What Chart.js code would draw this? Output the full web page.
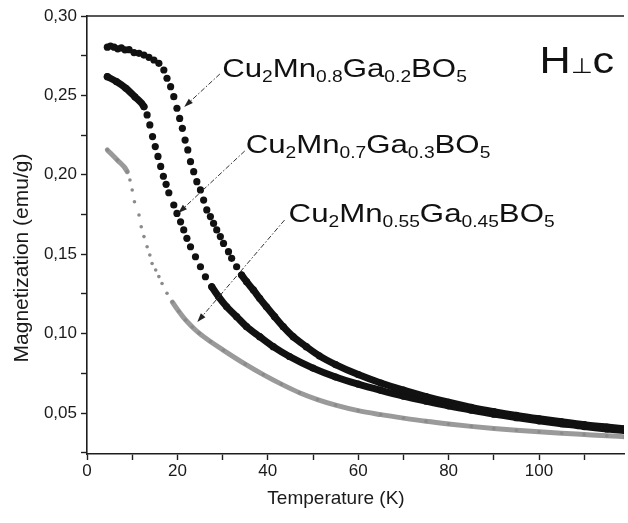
<!DOCTYPE html>
<html>
<head>
<meta charset="utf-8">
<script src="https://cdn.jsdelivr.net/npm/chart.js@4.4.1/dist/chart.umd.min.js"></script>
<style>
  html, body { margin: 0; padding: 0; background: #fff; }
</style>
</head>
<body>
<canvas id="magChart" width="628" height="523"></canvas>
<script>
// M(T) curves, H perpendicular to c
const temp08 = [4.5, 5.2, 6.0, 6.8, 7.6, 8.4, 9.3, 10.4, 11.5, 12.6, 13.7, 14.8, 15.9, 17.0, 17.7, 18.5, 19.2, 19.9, 20.5, 21.1,
  21.7, 22.3, 22.9, 23.6, 24.3, 25.1, 25.8, 26.5, 27.3, 28.0, 28.7, 29.5, 30.2, 31.3, 32.0, 33.1, 34.2, 35.3, 36.8, 38.2,
  39.7, 41.5, 43.4, 45.6, 48.5, 51.4, 55, 60, 65, 70, 75, 80, 85, 90, 95, 100, 105, 110, 115, 119];
const mag08 = [0.2804, 0.2811, 0.2804, 0.2793, 0.2799, 0.2787, 0.2788, 0.2770, 0.2765, 0.2754, 0.2740, 0.2723, 0.2702, 0.2660, 0.2608, 0.2555, 0.2492, 0.2419, 0.2355, 0.2293,
  0.2219, 0.2157, 0.2083, 0.2020, 0.1957, 0.1905, 0.1841, 0.1779, 0.1737, 0.1694, 0.1653, 0.1611, 0.1568, 0.1516, 0.1474, 0.1421, 0.1369, 0.1327, 0.1275, 0.1222,
  0.1169, 0.1107, 0.1044, 0.0981, 0.0918, 0.0860, 0.0805, 0.0742, 0.0689, 0.0644, 0.0604, 0.0568, 0.0536, 0.0509, 0.0485, 0.0464, 0.0445, 0.0427, 0.0412, 0.0401];

const temp07 = [4.5, 6.5, 8.6, 10.6, 12.6, 13.3, 13.9, 14.5, 15.1, 15.7, 16.3, 16.9, 17.5, 18.1, 19.2, 19.9, 20.7, 21.4, 22.1, 22.9,
  24.0, 25.1, 26.2, 27.6, 29.1, 30.9, 33.1, 35.3, 38.2, 41.2, 44.8, 50, 55, 60, 65, 70, 75, 80, 85, 90, 95, 100, 105, 110, 115, 119];
const mag07 = [0.2618, 0.2587, 0.2545, 0.2491, 0.2429, 0.2377, 0.2314, 0.2241, 0.2178, 0.2116, 0.2053, 0.1991, 0.1940, 0.1887, 0.1810, 0.1757, 0.1704, 0.1653, 0.1600, 0.1547,
  0.1484, 0.1421, 0.1358, 0.1295, 0.1233, 0.1169, 0.1107, 0.1044, 0.0981, 0.0918, 0.0856, 0.0783, 0.0727, 0.0682, 0.0643, 0.0607, 0.0575, 0.0545, 0.0518, 0.0493, 0.0471, 0.0451, 0.0433, 0.0415, 0.0400, 0.0390];

const temp055 = [4.5, 6.7, 8.9, 9.5, 10.0, 10.5, 11.5, 12.0, 12.6, 13.3, 13.9, 14.4, 15.2, 15.9, 16.6, 17.7, 18.9, 20.3, 21.8, 23.3,
  24.8, 27.3, 30.2, 35, 39, 43, 47, 51, 55, 60, 65, 70, 75, 80, 85, 90, 95, 100, 105, 110, 115, 119];
const mag055 = [0.2157, 0.2093, 0.2020, 0.1967, 0.1904, 0.1830, 0.1747, 0.1673, 0.1611, 0.1547, 0.1495, 0.1442, 0.1401, 0.1359, 0.1316, 0.1254, 0.1199, 0.1141, 0.1086, 0.1042,
  0.1003, 0.0950, 0.0895, 0.0808, 0.0742, 0.0682, 0.0628, 0.0585, 0.0550, 0.0515, 0.0490, 0.0468, 0.0448, 0.0431, 0.0416, 0.0403, 0.0392, 0.0382, 0.0373, 0.0365, 0.0357, 0.0351];

// annotation labels (parts: text, 0 = normal, 1 = subscript) and where they sit, in data units
const labelParts = [
  [['Cu', 0], ['2', 1], ['Mn', 0], ['0.8', 1], ['Ga', 0], ['0.2', 1], ['BO', 0], ['5', 1]],
  [['Cu', 0], ['2', 1], ['Mn', 0], ['0.7', 1], ['Ga', 0], ['0.3', 1], ['BO', 0], ['5', 1]],
  [['Cu', 0], ['2', 1], ['Mn', 0], ['0.55', 1], ['Ga', 0], ['0.45', 1], ['BO', 0], ['5', 1]]
];
const labelAt = [[29.9, 0.2616], [35.1, 0.2137], [44.6, 0.1702]];
const arrowFrom = [[29.4, 0.2635], [34.9, 0.2150], [43.7, 0.1715]];
const arrowTo = [[21.5, 0.2427], [20.2, 0.1759], [24.4, 0.1073]];
const fieldLabelAt = [100.1, 0.2641];

const toPoints = (xs, ys) => xs.map((t, i) => ({ x: t, y: ys[i] }));

// line only where the measured points are dense enough to merge into a band
function bandSegments(color, ranges) {
  return {
    borderColor: ctx => {
      const a = ctx.p0.parsed.x, b = ctx.p1.parsed.x;
      return ranges.some(r => a >= r[0] && b <= r[1]) ? color : 'rgba(0,0,0,0)';
    }
  };
}

const annotate = {
  id: 'annotate',
  afterDraw(chart) {
    const { ctx, chartArea, scales: { x, y } } = chart;
    ctx.save();

    // top frame line
    ctx.strokeStyle = '#1e1e1e';
    ctx.lineWidth = 1.6;
    ctx.beginPath();
    ctx.moveTo(chartArea.left, chartArea.top);
    ctx.lineTo(chartArea.right, chartArea.top);
    ctx.stroke();

    // dash-dot arrows
    arrowFrom.forEach((p, i) => {
      const x0 = x.getPixelForValue(p[0]), y0 = y.getPixelForValue(p[1]);
      const x1 = x.getPixelForValue(arrowTo[i][0]), y1 = y.getPixelForValue(arrowTo[i][1]);
      const ang = Math.atan2(y1 - y0, x1 - x0);
      ctx.strokeStyle = '#333';
      ctx.lineWidth = 1;
      ctx.setLineDash([5, 2, 1.5, 2]);
      ctx.beginPath();
      ctx.moveTo(x0, y0);
      ctx.lineTo(x1 - 6 * Math.cos(ang), y1 - 6 * Math.sin(ang));
      ctx.stroke();
      ctx.setLineDash([]);
      ctx.fillStyle = '#222';
      ctx.beginPath();
      ctx.moveTo(x1, y1);
      ctx.lineTo(x1 - 9 * Math.cos(ang) + 3 * Math.sin(ang), y1 - 9 * Math.sin(ang) - 3 * Math.cos(ang));
      ctx.lineTo(x1 - 9 * Math.cos(ang) - 3 * Math.sin(ang), y1 - 9 * Math.sin(ang) + 3 * Math.cos(ang));
      ctx.closePath();
      ctx.fill();
    });

    // formula labels
    ctx.fillStyle = '#111';
    ctx.textBaseline = 'alphabetic';
    ctx.textAlign = 'left';
    labelParts.forEach((parts, i) => {
      ctx.save();
      ctx.translate(x.getPixelForValue(labelAt[i][0]), y.getPixelForValue(labelAt[i][1]));
      ctx.scale(1.2, 1);
      let cx = 0;
      parts.forEach(([t, sub]) => {
        ctx.font = (sub ? '16px' : '26px') + ' "Liberation Sans", Arial, sans-serif';
        ctx.fillText(t, cx, sub ? 5 : 0);
        cx += ctx.measureText(t).width;
      });
      ctx.restore();
    });

    // H ⊥ c
    ctx.save();
    ctx.translate(x.getPixelForValue(fieldLabelAt[0]), y.getPixelForValue(fieldLabelAt[1]));
    ctx.scale(1.2, 1);
    let hx = 0;
    [['H', '36px "Liberation Sans", Arial'], ['\u22A5', '21px "DejaVu Sans"'], ['c', '36px "Liberation Sans", Arial']].forEach(([t, f]) => {
      ctx.font = f;
      ctx.fillText(t, hx, 0);
      hx += ctx.measureText(t).width;
    });
    ctx.restore();

    // axis titles
    ctx.fillStyle = '#1a1a1a';
    ctx.textAlign = 'center';
    ctx.font = '19px "Liberation Sans", Arial, sans-serif';
    ctx.fillText('Temperature (K)', 336, 504);
    ctx.save();
    ctx.translate(28, 258);
    ctx.rotate(-Math.PI / 2);
    ctx.font = '21px "Liberation Sans", Arial, sans-serif';
    ctx.fillText('Magnetization (emu/g)', 0, 0);
    ctx.restore();

    ctx.restore();
  }
};

const ctx = document.getElementById('magChart').getContext('2d');
new Chart(ctx, {
  type: 'scatter',
  data: {
    datasets: [
      {
        label: 'Cu2Mn0.8Ga0.2BO5',
        data: toPoints(temp08, mag08),
        showLine: true,
        cubicInterpolationMode: 'monotone',
        borderWidth: 7,
        borderCapStyle: 'round',
        borderJoinStyle: 'round',
        segment: bandSegments('#111', [[34, 200]]),
        pointRadius: 3.6,
        pointBorderWidth: 0,
        pointBackgroundColor: '#111'
      },
      {
        label: 'Cu2Mn0.7Ga0.3BO5',
        data: toPoints(temp07, mag07),
        showLine: true,
        cubicInterpolationMode: 'monotone',
        borderWidth: 7,
        borderCapStyle: 'round',
        borderJoinStyle: 'round',
        segment: bandSegments('#111', [[0, 12.7], [27, 200]]),
        pointRadius: 3.6,
        pointBorderWidth: 0,
        pointBackgroundColor: '#111'
      },
      {
        label: 'Cu2Mn0.55Ga0.45BO5',
        data: toPoints(temp055, mag055),
        showLine: true,
        cubicInterpolationMode: 'monotone',
        borderWidth: 5,
        borderCapStyle: 'round',
        borderJoinStyle: 'round',
        segment: bandSegments('#9a9a9a', [[0, 9], [18.9, 200]]),
        pointRadius: 1.8,
        pointBorderWidth: 0,
        pointBackgroundColor: '#8a8a8a'
      }
    ]
  },
  options: {
    responsive: false,
    animation: false,
    devicePixelRatio: 1,
    layout: { padding: { top: 16, left: 0, right: 0, bottom: 0 } },
    plugins: {
      legend: { display: false },
      tooltip: { enabled: false }
    },
    scales: {
      x: {
        type: 'linear',
        min: 0,
        max: 118.8,
        afterFit: scale => { scale.height = 69; },
        border: { display: true, color: '#1e1e1e', width: 1.6 },
        grid: { drawOnChartArea: false, drawTicks: true, tickLength: 6, tickColor: '#1e1e1e', tickWidth: 1.4 },
        ticks: {
          stepSize: 10,
          includeBounds: false,
          maxRotation: 0,
          padding: 1,
          color: '#1a1a1a',
          font: { family: '"Liberation Sans", Arial, sans-serif', size: 17 },
          callback: v => (v % 20 === 0 ? String(v) : '')
        }
      },
      y: {
        type: 'linear',
        min: 0.0242,
        max: 0.30,
        afterFit: scale => { scale.width = 87; },
        border: { display: true, color: '#1e1e1e', width: 1.6 },
        grid: { drawOnChartArea: false, drawTicks: true, tickLength: 6, tickColor: '#1e1e1e', tickWidth: 1.4 },
        ticks: {
          stepSize: 0.025,
          includeBounds: false,
          padding: 4,
          color: '#1a1a1a',
          font: { family: '"Liberation Sans", Arial, sans-serif', size: 17 },
          callback: v => (Math.abs(v * 20 - Math.round(v * 20)) < 1e-6 ? v.toFixed(2).replace('.', ',') : '')
        }
      }
    }
  },
  plugins: [annotate]
});
</script>
</body>
</html>
